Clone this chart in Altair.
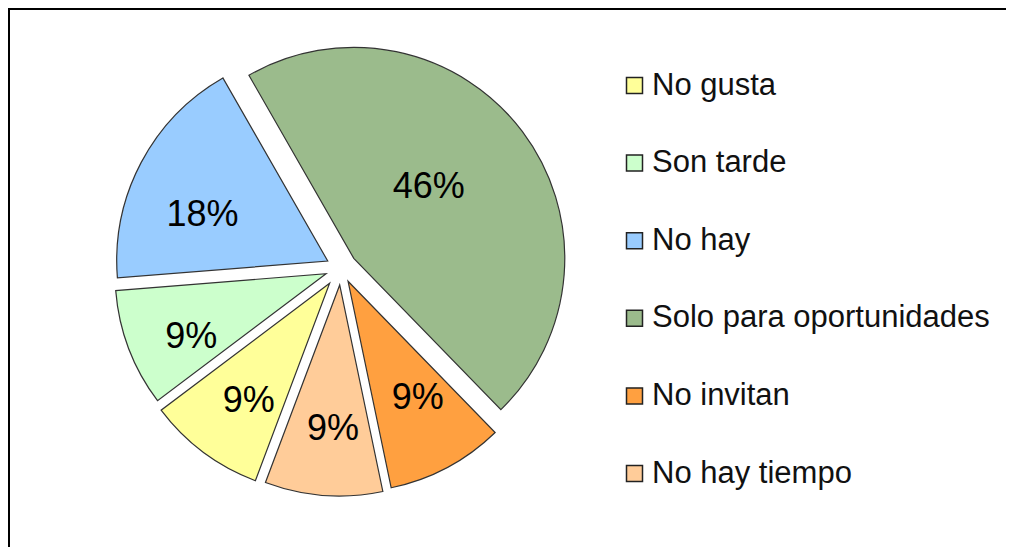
import math
import altair as alt
import pandas as pd

# ---- data ----
categories = ["No gusta", "Son tarde", "No hay", "Solo para oportunidades", "No invitan", "No hay tiempo"]
values = [9, 9, 18, 46, 9, 9]
labels = ["9%", "9%", "18%", "46%", "9%", "9%"]

# ---- styles ----
colors = ["#FFFF99", "#CCFFCC", "#99CCFF", "#9BBB8C", "#FFA040", "#FFCC99"]
explode = [19, 16, 15, 16, 15, 17]          # px, slice explosion
label_dist = [141, 148, 134, 105, 134, 142]  # px from slice tip
label_shift = [-1.8, -3.6, -7.0, -7.5, -3.4, -1.7]  # degrees
START_DEG = 200.6
R = 211
CX, CY = 333, 260
W, H = 998, 539

total = sum(values)
rows = []
acc = math.radians(START_DEG)
for cat, v, lab, ex, ld, ls in zip(categories, values, labels, explode, label_dist, label_shift):
    span = 2 * math.pi * v / total
    a0, a1 = acc, acc + span
    mid = (a0 + a1) / 2
    cx = CX + ex * math.sin(mid)
    cy = CY - ex * math.cos(mid)
    la = mid + math.radians(ls)
    rows.append(dict(cat=cat, value=v, label=lab, a0=a0, a1=a1, cx=cx, cy=cy,
                     lx=cx + ld * math.sin(la), ly=cy - ld * math.cos(la) + 2))
    acc = a1
df = pd.DataFrame(rows)

color = alt.Color(
    "cat:N",
    scale=alt.Scale(domain=categories, range=colors),
    legend=alt.Legend(
        title=None, orient="none", legendX=611, legendY=62,
        symbolType="square", symbolSize=256, symbolStrokeColor="#222",
        symbolStrokeWidth=1.5, symbolOpacity=1,
        labelFont="Liberation Sans", labelFontSize=31, labelColor="#111",
        rowPadding=45.6, labelOffset=2, padding=0, labelLimit=0,
    ),
)

arcs = alt.Chart(df).mark_arc(outerRadius=R, stroke="#333", strokeWidth=1.2).encode(
    x=alt.X("cx:Q", scale=None, axis=None),
    y=alt.Y("cy:Q", scale=None, axis=None),
    theta=alt.Theta("a0:Q", scale=None, stack=None),
    theta2="a1:Q",
    color=color,
)

text = alt.Chart(df).mark_text(font="Liberation Sans", fontSize=36, color="#000", baseline="middle").encode(
    x=alt.X("lx:Q", scale=None, axis=None),
    y=alt.Y("ly:Q", scale=None, axis=None),
    text="label:N",
)

one = pd.DataFrame({"k": [0]})
top_rule = alt.Chart(one).mark_rule(color="#000", strokeWidth=2).encode(
    x=alt.value(0), x2=alt.value(W), y=alt.value(1))
left_rule = alt.Chart(one).mark_rule(color="#000", strokeWidth=2).encode(
    x=alt.value(1), y=alt.value(0), y2=alt.value(H))

chart = alt.layer(arcs, text, top_rule, left_rule).properties(
    width=W, height=H, padding=0, autosize="none", background="white"
).configure_view(stroke=None)

chart.save("out.html", embed_options={"renderer": "svg", "actions": False})
